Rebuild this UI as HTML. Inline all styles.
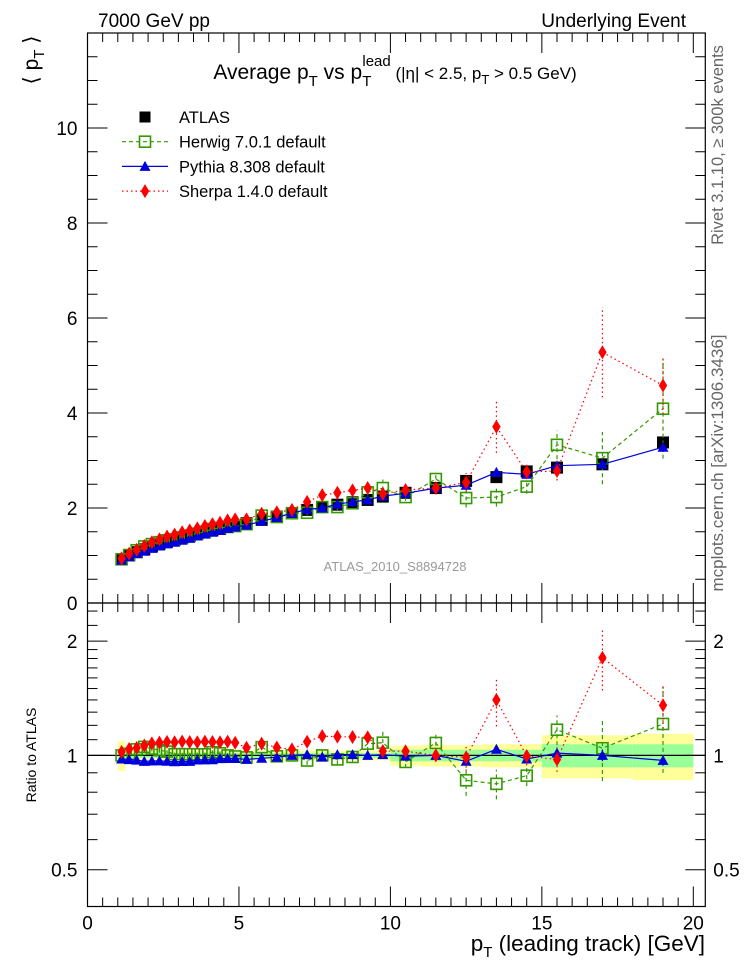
<!DOCTYPE html>
<html><head><meta charset="utf-8">
<style>
html,body{margin:0;padding:0;background:#fff;}
svg{display:block;font-family:"Liberation Sans","DejaVu Sans",sans-serif;}
</style></head>
<body>
<svg id="chart" width="746" height="972" viewBox="0 0 746 972" xmlns="http://www.w3.org/2000/svg">
<text x="98" y="27" font-size="19">7000 GeV pp</text>
<text x="686" y="27" font-size="19" text-anchor="end">Underlying Event</text>
<text x="395" y="79" font-size="21" text-anchor="middle">Average p<tspan font-size="15" dy="7">T</tspan><tspan dy="-7"> vs p</tspan><tspan font-size="15" dy="7">T</tspan><tspan font-size="15" dx="-9" dy="-20">lead</tspan><tspan font-size="17" dy="13"> (|η| &lt; 2.5, p</tspan><tspan font-size="13" dy="5">T</tspan><tspan font-size="17" dy="-5"> &gt; 0.5 GeV)</tspan></text>
<text transform="translate(38,60) rotate(-90)" font-size="21" text-anchor="middle">⟨ p<tspan font-size="15" dy="6">T</tspan><tspan dy="-6"> ⟩</tspan></text>
<text transform="translate(36,755) rotate(-90)" font-size="14" text-anchor="middle">Ratio to ATLAS</text>
<text x="705" y="951" font-size="22.5" text-anchor="end">p<tspan font-size="15" dy="6">T</tspan><tspan dy="-6"> (leading track) [GeV]</tspan></text>
<text transform="translate(723,145) rotate(-90)" font-size="16.5" fill="#666" text-anchor="middle">Rivet 3.1.10, ≥ 300k events</text>
<text transform="translate(723,463) rotate(-90)" font-size="17" fill="#666" text-anchor="middle">mcplots.cern.ch [arXiv:1306.3436]</text>
<text x="395" y="571" font-size="13" fill="#999" text-anchor="middle">ATLAS_2010_S8894728</text>
<g id="bands"></g><g id="marks"></g><g id="axes"></g><g id="legend"></g>
</svg>
<script>
const xs=[1.125,1.375,1.625,1.875,2.125,2.375,2.625,2.875,3.125,3.375,3.625,3.875,4.125,4.375,4.625,4.875,5.25,5.75,6.25,6.75,7.25,7.75,8.25,8.75,9.25,9.75,10.5,11.5,12.5,13.5,14.5,15.5,17,19];
const xLo=[1,1.25,1.5,1.75,2,2.25,2.5,2.75,3,3.25,3.5,3.75,4,4.25,4.5,4.75,5,5.5,6,6.5,7,7.5,8,8.5,9,9.5,10,11,12,13,14,15,16,18];
const xHi=[1.25,1.5,1.75,2,2.25,2.5,2.75,3,3.25,3.5,3.75,4,4.25,4.5,4.75,5,5.5,6,6.5,7,7.5,8,8.5,9,9.5,10,11,12,13,14,15,16,18,20];
const atlas=[0.92,1.0,1.07,1.13,1.19,1.24,1.29,1.33,1.37,1.41,1.45,1.49,1.53,1.56,1.60,1.63,1.68,1.75,1.82,1.89,1.96,2.02,2.07,2.12,2.17,2.24,2.32,2.42,2.57,2.65,2.77,2.85,2.92,3.38];
const atlasTotRel=[0.09,0.03,0.03,0.03,0.03,0.03,0.03,0.03,0.03,0.03,0.03,0.03,0.03,0.03,0.03,0.03,0.03,0.03,0.03,0.03,0.03,0.03,0.03,0.03,0.03,0.03,0.06,0.065,0.065,0.07,0.07,0.13,0.13,0.14];
const atlasStatRel=[0.03,0.015,0.015,0.015,0.015,0.015,0.015,0.015,0.015,0.015,0.015,0.015,0.015,0.015,0.015,0.015,0.015,0.015,0.015,0.015,0.015,0.015,0.015,0.015,0.015,0.015,0.035,0.035,0.035,0.035,0.035,0.07,0.07,0.07];
const herwig=[0.92,1.01,1.11,1.19,1.24,1.28,1.32,1.34,1.38,1.42,1.46,1.50,1.56,1.58,1.60,1.62,1.66,1.84,1.81,1.89,1.90,2.02,2.02,2.10,2.33,2.42,2.23,2.61,2.21,2.23,2.45,3.33,3.05,4.09];
const herwigErr=[0.02,0.02,0.02,0.02,0.02,0.02,0.02,0.02,0.02,0.02,0.02,0.02,0.02,0.02,0.02,0.02,0.03,0.03,0.03,0.04,0.05,0.06,0.06,0.07,0.1,0.2,0.08,0.15,0.2,0.2,0.15,0.3,0.55,1.05];
const pythia=[0.90,0.975,1.04,1.09,1.15,1.20,1.245,1.28,1.32,1.36,1.41,1.45,1.49,1.53,1.57,1.60,1.64,1.72,1.80,1.89,1.97,2.00,2.08,2.13,2.17,2.25,2.31,2.42,2.48,2.75,2.71,2.89,2.92,3.28];
const pythiaErr=[0.01,0.01,0.01,0.01,0.01,0.01,0.01,0.01,0.01,0.01,0.01,0.01,0.01,0.01,0.01,0.01,0.01,0.01,0.01,0.02,0.02,0.02,0.02,0.03,0.03,0.03,0.04,0.05,0.06,0.07,0.07,0.1,0.1,0.1];
const sherpa=[0.94,1.04,1.12,1.20,1.28,1.34,1.40,1.44,1.49,1.53,1.57,1.62,1.66,1.69,1.74,1.76,1.76,1.88,1.91,1.96,2.13,2.27,2.32,2.37,2.42,2.30,2.38,2.42,2.54,3.71,2.76,2.78,5.28,4.58];
const sherpaErr=[0.02,0.02,0.02,0.02,0.02,0.02,0.02,0.02,0.02,0.02,0.02,0.02,0.02,0.02,0.02,0.02,0.03,0.03,0.03,0.04,0.05,0.08,0.08,0.08,0.08,0.05,0.05,0.06,0.2,0.55,0.15,0.2,0.95,0.6];
const mainYTicks=[0,2,4,6,8,10];
const ratioTicks=[0.5,1,2];
const xTicks=[0,5,10,15,20];

const NS="http://www.w3.org/2000/svg";
const X0=87.5,X1=705.3,MT=33,MB=603,RB=906.5;
const sx=v=>X0+v*(693.3-X0)/20;
const sy=v=>MB-v*(MB-MT)/12;
const rMax=Math.log2(2.52),rMin=Math.log2(0.4);
const sr=v=>MB+(rMax-Math.log2(v))/(rMax-rMin)*(RB-MB);
function el(parent,tag,attrs){const e=document.createElementNS(NS,tag);for(const k in attrs)e.setAttribute(k,attrs[k]);parent.appendChild(e);return e;}
const bands=document.getElementById('bands'),marks=document.getElementById('marks'),axes=document.getElementById('axes'),legend=document.getElementById('legend');

for(let i=0;i<xs.length;i++){
  let r=el(bands,'rect',{x:sx(xLo[i]),width:sx(xHi[i])-sx(xLo[i]),y:sr(1+atlasTotRel[i]),height:sr(1-atlasTotRel[i])-sr(1+atlasTotRel[i]),fill:'#ffff99'});
  
  
  let g=el(bands,'rect',{x:sx(xLo[i]),width:sx(xHi[i])-sx(xLo[i]),y:sr(1+atlasStatRel[i]),height:sr(1-atlasStatRel[i])-sr(1+atlasStatRel[i]),fill:'#99ff99'});
  
  
}
let one=el(bands,'line',{x1:X0,x2:X1,y1:sr(1),y2:sr(1),stroke:'#000','stroke-width':1.2});



function marker(g,shape,x,y,color){
  if(shape==='sq') return el(g,'rect',{x:x-5.5,y:y-5.5,width:11,height:11,fill:'none',stroke:color,'stroke-width':1.6});
  if(shape==='tri') return el(g,'path',{d:`M${x-5.5},${y+4.5}L${x+5.5},${y+4.5}L${x},${y-5.5}Z`,fill:color});
  return el(g,'path',{d:`M${x},${y-7}L${x+4.2},${y}L${x},${y+7}L${x-4.2},${y}Z`,fill:color});
}
function series(vals,errs,color,dash,shape,name){
  const g=el(marks,'g',{});
  
  
  for(const panel of ['main','ratio']){
    const yv=i=>panel==='main'?sy(vals[i]):sr(vals[i]/atlas[i]);
    const ylo=i=>panel==='main'?sy(vals[i]-errs[i]):sr((vals[i]-errs[i])/atlas[i]);
    const yhi=i=>panel==='main'?sy(vals[i]+errs[i]):sr((vals[i]+errs[i])/atlas[i]);
    let d='';
    for(let i=0;i<xs.length;i++)d+=(i?'L':'M')+sx(xs[i]).toFixed(1)+','+yv(i).toFixed(1);
    const p=el(g,'path',{d:d,fill:'none',stroke:color,'stroke-width':1.2,'stroke-dasharray':dash});
    
    
    for(let i=0;i<xs.length;i++){
      const x=sx(xs[i]),y=yv(i);
      const eb=el(g,'line',{x1:x,x2:x,y1:ylo(i),y2:yhi(i),stroke:color,'stroke-width':1.2,'stroke-dasharray':dash});
      
      
      const m=marker(g,shape,x,y,color);
      
      
    }
  }
}
const ag=el(marks,'g',{});


for(let i=0;i<xs.length;i++){
  const m=el(ag,'rect',{x:sx(xs[i])-6,y:sy(atlas[i])-6,width:12,height:12,fill:'#000'});
  
  
}
series(herwig,herwigErr,'#339900','4,3','sq','herwig');
series(pythia,pythiaErr,'#0000dd','none','tri','pythia');
series(sherpa,sherpaErr,'#ff0000','1.5,3','dia','sherpa');

for(const [t,b,n] of [[MT,MB,'main-plot-frame'],[MB,RB,'ratio-plot-frame']]){
  const f=el(axes,'rect',{x:X0,y:t,width:X1-X0,height:b-t,fill:'none',stroke:'#000','stroke-width':1.2});
  
  
}
function tick(x1,y1,x2,y2){el(axes,'line',{x1,y1,x2,y2,stroke:'#000','stroke-width':1});}
for(let v=0;v<=20.3;v+=0.5){
  const maj=Math.abs(v%5)<1e-6, len=maj?20:9, x=sx(v);
  tick(x,MT,x,MT+len);tick(x,MB,x,MB-len);tick(x,MB,x,MB+len);tick(x,RB,x,RB-len);
}
xTicks.forEach(v=>{const t=el(axes,'text',{x:sx(v),y:RB+23,'font-size':19,'text-anchor':'middle'});t.textContent=v;
  
  });
for(let v=0;v<=12.01;v+=0.5){
  const maj=Math.abs(v%2)<1e-6,len=maj?20:10,y=sy(v);
  tick(X0,y,X0+len,y);tick(X1,y,X1-len,y);
}
mainYTicks.forEach(v=>{const t=el(axes,'text',{x:X0-10,y:sy(v)+7,'font-size':19,'text-anchor':'end'});t.textContent=v;
  
  });
const minorR=[0.4,0.6,0.7,0.8,0.9,1.1,1.2,1.3,1.4,1.5,1.6,1.7,1.8,1.9,2.2,2.4];
minorR.forEach(v=>{const y=sr(v);tick(X0,y,X0+10,y);tick(X1,y,X1-10,y);});
ratioTicks.forEach(v=>{const y=sr(v);tick(X0,y,X0+20,y);tick(X1,y,X1-20,y);
  const t=el(axes,'text',{x:X0-10,y:y+7,'font-size':19,'text-anchor':'end'});t.textContent=v;
  
  
  const t2=el(axes,'text',{x:X1+8,y:y+7,'font-size':19});t2.textContent=v;
  
  });
const leg=[['ATLAS','#000','none','atlas'],['Herwig 7.0.1 default','#339900','4,3','sq'],['Pythia 8.308 default','#0000dd','none','tri'],['Sherpa 1.4.0 default','#ff0000','1.5,3','dia']];
leg.forEach((e,i)=>{
  const y=117+i*24.7,x=145;
  const g=el(legend,'g',{});
  
  
  if(e[3]==='atlas')el(g,'rect',{x:x-5.5,y:y-5.5,width:11,height:11,fill:'#000'});
  else{
    el(g,'line',{x1:x-23,x2:x+23,y1:y,y2:y,stroke:e[1],'stroke-width':1.2,'stroke-dasharray':e[2]});
    marker(g,e[3],x,y,e[1]);
  }
  const t=el(g,'text',{x:179,y:y+6,'font-size':16.5});t.textContent=e[0];
});
</script>
</body></html>
